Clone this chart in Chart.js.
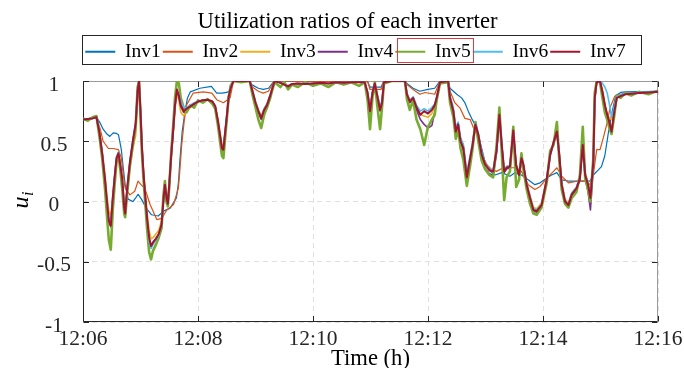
<!DOCTYPE html>
<html>
<head>
<meta charset="utf-8">
<script src="https://cdn.jsdelivr.net/npm/chart.js@4"></script>
<style>
  html, body { margin: 0; padding: 0; background: #fff; }
  canvas { display: block; }
</style>
</head>
<body>
<canvas id="ratioChart" width="684" height="368"></canvas>
<script>
// time axis: seconds after 12:06:00
const timeLabels = ["12:06", "12:08", "12:10", "12:12", "12:14", "12:16"];
const seriesNames = ["Inv1", "Inv2", "Inv3", "Inv4", "Inv5", "Inv6", "Inv7"];

// Inv1 / Inv2 react slowly, sampled on their own times
const inv1Times = [
  0, 14, 18, 21, 25, 28, 31.5, 35, 37, 40,
  42, 44, 47, 52, 55, 57.5, 61, 66, 71.5, 78.5,
  84, 91, 97.5, 99.5, 101, 103.5, 106.5, 109, 112, 122,
  134, 139.5, 145, 150, 153, 157, 174, 176, 183, 188,
  193.5, 199.5, 297, 299.5, 305, 311, 314, 336, 338, 344.5,
  351.5, 360, 367, 372.5, 381, 383, 390, 395, 398.5, 402,
  405.5, 411, 416, 419.5, 425, 430, 437, 445.5, 451, 457.5,
  464.5, 471.5, 477, 484, 489, 494.5, 499.5, 506.5, 520, 529,
  532.5, 537.5, 541, 544.5, 548, 552, 556, 561, 566, 580,
  600
];
const inv1 = [
  0.68, 0.70, 0.65, 0.60, 0.56, 0.54, 0.57, 0.565, 0.555, 0.43,
  0.28, 0.14, 0.02, 0.00, 0.03, 0.06, 0.02, -0.055, -0.11, -0.12,
  -0.08, -0.055, 0.03, 0.15, 0.33, 0.58, 0.75, 0.86, 0.91, 0.94,
  0.955, 0.90, 0.90, 0.905, 0.92, 1.00, 1.00, 0.97, 0.94, 0.93,
  0.94, 1.00, 0.995, 0.95, 0.95, 0.95, 1.00, 1.00, 0.98, 0.94,
  0.915, 0.93, 0.94, 1.00, 1.00, 0.94, 0.89, 0.86, 0.82, 0.75,
  0.69, 0.61, 0.44, 0.33, 0.25, 0.22, 0.24, 0.21, 0.24, 0.22,
  0.18, 0.14, 0.155, 0.195, 0.22, 0.24, 0.18, 0.17, 0.17, 0.17,
  0.22, 0.26, 0.29, 0.38, 0.56, 0.74, 0.88, 0.905, 0.91, 0.912,
  0.915
];

const inv2Times = [
  0, 14, 18, 21, 26.5, 31.5, 37, 40, 42, 44,
  49, 54, 57.5, 60.5, 64.5, 70, 77, 82, 87.5, 94.5,
  99.5, 101, 103, 105.5, 108, 115, 125.5, 134.5, 139.5, 146.5,
  153.5, 157, 174, 176, 183, 188, 193.5, 199.5, 297, 299.5,
  305, 311, 314, 336, 338, 344.5, 351.5, 357, 367, 372.5,
  381, 383, 388, 393.5, 398.5, 404, 407.5, 412.5, 416, 421.5,
  426.5, 431.5, 438.5, 445.5, 451, 457.5, 464.5, 471.5, 477, 484,
  491, 494.5, 499.5, 506.5, 517, 524, 529, 532.5, 536, 539.5,
  543, 546.5, 550, 555, 565.5, 580, 600
];
const inv2 = [
  0.68, 0.70, 0.60, 0.50, 0.44, 0.44, 0.43, 0.36, 0.22, 0.11,
  0.055, 0.085, 0.17, 0.14, 0.11, -0.025, -0.15, -0.14, -0.07, -0.025,
  0.11, 0.25, 0.47, 0.66, 0.80, 0.90, 0.91, 0.90, 0.845, 0.82,
  0.86, 1.00, 1.00, 0.955, 0.915, 0.90, 0.915, 1.00, 0.995, 0.93,
  0.93, 0.93, 1.00, 1.00, 0.97, 0.93, 0.89, 0.905, 0.89, 1.00,
  1.00, 0.915, 0.82, 0.775, 0.69, 0.68, 0.61, 0.555, 0.39, 0.305,
  0.265, 0.25, 0.28, 0.28, 0.28, 0.25, 0.14, 0.10, 0.125, 0.195,
  0.25, 0.28, 0.21, 0.155, 0.17, 0.17, 0.14, 0.22, 0.43, 0.43,
  0.53, 0.64, 0.78, 0.875, 0.90, 0.905, 0.91
];

// Inv3..Inv7 follow the fast controller, shared sample times
const fastTimes = [
  0, 5, 10, 14, 17, 20, 23, 25, 27, 29,
  31, 33, 35, 37, 39, 41, 43, 44, 46, 49,
  52, 55, 57, 58.5, 60, 61.5, 63, 65, 67, 69,
  71, 73, 76, 79, 82, 84, 85.5, 87, 88.5, 90,
  92, 94, 96, 98, 100, 102, 105, 108, 112, 116,
  120, 125, 130, 135, 138, 141, 143, 145, 146.5, 148,
  150, 152, 154, 157, 165, 174, 177, 180, 183, 186,
  189, 192, 195, 198, 200, 206, 210, 214, 218, 224,
  232, 240, 248, 256, 264, 272, 280, 288, 294, 297,
  299.5, 302, 304.5, 307, 310, 312, 314, 322, 336, 338,
  341, 344.5, 348, 352, 356, 360, 364, 367, 369, 372.5,
  381, 383, 386.5, 389, 391.5, 394, 397, 400.5, 404, 406.5,
  409.5, 412.5, 416, 419.5, 424, 428, 431.5, 434.5, 437, 439.5,
  442, 445.5, 449, 452, 455, 457.5, 459.5, 463, 466.5, 470,
  473.5, 478.5, 484, 487.5, 491, 494.5, 497, 499.5, 503, 506.5,
  510, 515, 518.5, 521.5, 524, 527, 529.5, 532.5, 534, 536,
  539.5, 542, 544.5, 547, 549, 551.5, 554.5, 557, 561, 566,
  572, 580, 590, 600
];
const inv3 = [
  0.68, 0.685, 0.69, 0.70, 0.60, 0.42, 0.22, 0.05, -0.08, -0.12,
  0.05, 0.22, 0.37, 0.41, 0.32, 0.20, 0.00, -0.06, 0.08, 0.28,
  0.44, 0.55, 0.88, 0.99, 0.78, 0.48, 0.28, 0.07, -0.10, -0.24,
  -0.31, -0.30, -0.27, -0.24, -0.16, 0.04, 0.15, 0.06, 0.00, 0.15,
  0.36, 0.55, 0.76, 0.90, 0.84, 0.74, 0.71, 0.75, 0.78, 0.80,
  0.83, 0.84, 0.845, 0.83, 0.79, 0.68, 0.57, 0.47, 0.46, 0.57,
  0.71, 0.87, 0.94, 1.00, 1.00, 1.00, 0.92, 0.83, 0.76, 0.71,
  0.77, 0.81, 0.88, 0.95, 1.00, 0.985, 0.97, 0.96, 0.975, 0.98,
  0.975, 0.98, 0.985, 0.98, 0.99, 0.985, 0.99, 0.99, 0.99, 0.91,
  0.77, 0.91, 0.98, 0.89, 0.78, 0.83, 0.99, 1.00, 1.00, 0.90,
  0.84, 0.86, 0.79, 0.72, 0.71, 0.70, 0.73, 0.79, 0.86, 0.99,
  1.00, 0.87, 0.76, 0.60, 0.65, 0.52, 0.46, 0.23, 0.37, 0.48,
  0.64, 0.56, 0.40, 0.32, 0.27, 0.26, 0.42, 0.70, 0.47, 0.27,
  0.29, 0.30, 0.57, 0.31, 0.24, 0.36, 0.31, 0.15, 0.05, -0.05,
  -0.06, -0.01, 0.20, 0.40, 0.50, 0.58, 0.40, 0.16, 0.02, -0.01,
  0.07, 0.12, 0.20, 0.46, 0.24, 0.16, 0.06, 0.33, 0.84, 0.99,
  1.00, 0.93, 0.82, 0.71, 0.70, 0.68, 0.76, 0.86, 0.875, 0.89,
  0.895, 0.90, 0.905, 0.91
];
const inv4 = [
  0.68, 0.685, 0.69, 0.70, 0.58, 0.40, 0.17, -0.01, -0.17, -0.21,
  0.01, 0.19, 0.35, 0.39, 0.29, 0.16, -0.08, -0.12, 0.08, 0.32,
  0.49, 0.64, 0.91, 1.00, 0.74, 0.44, 0.24, 0.03, -0.16, -0.31,
  -0.37, -0.34, -0.31, -0.28, -0.20, 0.01, 0.13, 0.03, -0.03, 0.13,
  0.37, 0.57, 0.79, 0.92, 0.87, 0.79, 0.74, 0.76, 0.79, 0.81,
  0.83, 0.84, 0.845, 0.83, 0.79, 0.65, 0.54, 0.43, 0.42, 0.54,
  0.69, 0.86, 0.94, 1.00, 1.00, 1.00, 0.91, 0.82, 0.74, 0.68,
  0.75, 0.80, 0.87, 0.95, 1.00, 0.985, 0.97, 0.955, 0.975, 0.98,
  0.975, 0.98, 0.985, 0.98, 0.99, 0.985, 0.99, 0.99, 0.99, 0.89,
  0.74, 0.90, 0.98, 0.87, 0.75, 0.81, 0.99, 1.00, 1.00, 0.88,
  0.82, 0.85, 0.76, 0.68, 0.64, 0.61, 0.63, 0.74, 0.84, 0.99,
  1.00, 0.85, 0.74, 0.57, 0.63, 0.49, 0.42, 0.19, 0.35, 0.46,
  0.63, 0.54, 0.37, 0.28, 0.23, 0.22, 0.40, 0.71, 0.46, 0.24,
  0.27, 0.28, 0.58, 0.29, 0.21, 0.35, 0.30, 0.13, 0.02, -0.08,
  -0.09, -0.04, 0.18, 0.38, 0.48, 0.57, 0.38, 0.13, -0.01, -0.04,
  0.05, 0.10, 0.18, 0.48, 0.20, 0.08, -0.07, 0.28, 0.85, 0.99,
  1.00, 0.91, 0.80, 0.72, 0.665, 0.58, 0.74, 0.86, 0.875, 0.89,
  0.895, 0.90, 0.905, 0.91
];
const inv5 = [
  0.69, 0.67, 0.70, 0.71, 0.55, 0.36, 0.10, -0.12, -0.32, -0.40,
  -0.08, 0.14, 0.33, 0.38, 0.26, 0.10, -0.10, -0.13, 0.06, 0.30,
  0.47, 0.62, 0.95, 1.00, 0.70, 0.40, 0.20, -0.02, -0.24, -0.42,
  -0.48, -0.41, -0.36, -0.30, -0.22, 0.06, 0.17, 0.00, -0.04, 0.12,
  0.40, 0.62, 0.86, 1.00, 0.98, 0.86, 0.78, 0.74, 0.80, 0.78,
  0.84, 0.82, 0.85, 0.81, 0.77, 0.62, 0.50, 0.38, 0.36, 0.50,
  0.68, 0.86, 0.96, 1.00, 0.99, 1.00, 0.88, 0.78, 0.68, 0.61,
  0.72, 0.78, 0.85, 0.94, 0.99, 0.95, 0.99, 0.93, 0.97, 0.95,
  0.99, 0.96, 0.98, 0.95, 0.99, 0.97, 0.99, 0.96, 0.99, 0.84,
  0.60, 0.86, 0.99, 0.80, 0.60, 0.78, 0.98, 1.00, 1.00, 0.85,
  0.76, 0.84, 0.68, 0.60, 0.47, 0.62, 0.68, 0.72, 0.84, 0.98,
  0.99, 0.82, 0.70, 0.52, 0.60, 0.44, 0.34, 0.13, 0.30, 0.44,
  0.66, 0.50, 0.34, 0.27, 0.22, 0.20, 0.46, 0.78, 0.40, 0.01,
  0.20, 0.25, 0.62, 0.12, 0.18, 0.40, 0.27, 0.10, -0.02, -0.10,
  -0.11, -0.05, 0.16, 0.42, 0.47, 0.66, 0.34, 0.10, -0.02, -0.05,
  0.03, 0.08, 0.22, 0.62, 0.19, 0.10, 0.00, 0.36, 0.90, 1.00,
  0.99, 0.86, 0.74, 0.68, 0.62, 0.56, 0.72, 0.88, 0.86, 0.90,
  0.88, 0.91, 0.89, 0.92
];
const inv6 = [
  0.68, 0.685, 0.69, 0.70, 0.59, 0.41, 0.19, 0.01, -0.14, -0.17,
  0.03, 0.21, 0.37, 0.41, 0.31, 0.19, -0.04, -0.09, 0.11, 0.34,
  0.51, 0.66, 0.92, 1.00, 0.76, 0.46, 0.26, 0.03, -0.17, -0.33,
  -0.39, -0.36, -0.32, -0.28, -0.20, 0.02, 0.14, 0.04, -0.02, 0.15,
  0.40, 0.61, 0.83, 0.90, 0.89, 0.84, 0.78, 0.78, 0.80, 0.82,
  0.83, 0.84, 0.845, 0.83, 0.79, 0.66, 0.55, 0.45, 0.44, 0.56,
  0.71, 0.88, 0.95, 1.00, 1.00, 1.00, 0.92, 0.83, 0.76, 0.70,
  0.77, 0.81, 0.88, 0.95, 1.00, 0.985, 0.97, 0.96, 0.975, 0.98,
  0.98, 0.98, 0.985, 0.98, 0.99, 0.985, 0.99, 0.99, 0.99, 0.91,
  0.78, 0.91, 0.98, 0.89, 0.79, 0.84, 0.99, 1.00, 1.00, 0.90,
  0.84, 0.87, 0.80, 0.75, 0.77, 0.75, 0.78, 0.81, 0.87, 0.99,
  1.00, 0.88, 0.78, 0.62, 0.66, 0.53, 0.47, 0.24, 0.38, 0.49,
  0.65, 0.57, 0.41, 0.32, 0.27, 0.26, 0.41, 0.70, 0.47, 0.27,
  0.29, 0.30, 0.57, 0.31, 0.23, 0.36, 0.31, 0.15, 0.04, -0.06,
  -0.07, -0.02, 0.19, 0.39, 0.49, 0.57, 0.39, 0.15, 0.01, -0.02,
  0.07, 0.12, 0.20, 0.46, 0.23, 0.15, 0.05, 0.32, 0.83, 0.99,
  1.00, 0.98, 0.95, 0.90, 0.82, 0.70, 0.79, 0.87, 0.885, 0.895,
  0.90, 0.905, 0.91, 0.915
];
const inv7 = [
  0.68, 0.685, 0.69, 0.70, 0.58, 0.40, 0.18, 0.00, -0.16, -0.20,
  0.02, 0.20, 0.36, 0.40, 0.30, 0.18, -0.05, -0.10, 0.10, 0.33,
  0.50, 0.65, 0.92, 1.00, 0.75, 0.45, 0.25, 0.04, -0.15, -0.30,
  -0.37, -0.34, -0.31, -0.27, -0.19, 0.02, 0.14, 0.04, -0.02, 0.14,
  0.38, 0.58, 0.80, 0.93, 0.88, 0.80, 0.75, 0.77, 0.79, 0.81,
  0.83, 0.84, 0.845, 0.83, 0.79, 0.66, 0.55, 0.44, 0.43, 0.55,
  0.70, 0.87, 0.94, 1.00, 1.00, 1.00, 0.91, 0.82, 0.75, 0.69,
  0.76, 0.80, 0.87, 0.95, 1.00, 0.985, 0.97, 0.955, 0.975, 0.98,
  0.975, 0.98, 0.985, 0.98, 0.99, 0.985, 0.99, 0.99, 0.99, 0.90,
  0.75, 0.90, 0.98, 0.88, 0.76, 0.82, 0.99, 1.00, 1.00, 0.89,
  0.83, 0.86, 0.78, 0.72, 0.75, 0.73, 0.76, 0.80, 0.86, 0.99,
  1.00, 0.86, 0.75, 0.58, 0.64, 0.50, 0.44, 0.20, 0.36, 0.47,
  0.64, 0.555, 0.39, 0.31, 0.26, 0.25, 0.42, 0.72, 0.47, 0.25,
  0.28, 0.29, 0.59, 0.30, 0.22, 0.36, 0.31, 0.14, 0.03, -0.07,
  -0.08, -0.03, 0.19, 0.39, 0.49, 0.58, 0.39, 0.14, 0.00, -0.03,
  0.06, 0.11, 0.19, 0.47, 0.22, 0.14, 0.03, 0.33, 0.86, 0.99,
  1.00, 0.91, 0.80, 0.72, 0.665, 0.58, 0.75, 0.86, 0.875, 0.89,
  0.895, 0.90, 0.905, 0.91
];

const seriesTimes = [inv1Times, inv2Times, fastTimes, fastTimes, fastTimes, fastTimes, fastTimes];
const seriesValues = [inv1, inv2, inv3, inv4, inv5, inv6, inv7];

// MATLAB default line colours
const lineColors = ["#0072BD", "#D95319", "#EDB120", "#7E2F8E", "#77AC30", "#4DBEEE", "#A2142F"];
const lineWidths = [1.2, 1.2, 1.6, 1.6, 2.6, 1.6, 2];

const SERIF = '"Liberation Serif", "Times New Roman", serif';
const GRID = "#e0e0e0";
const TICK = 5.5;
const LEGEND_SHIFT = 8;

const datasets = seriesNames.map((name, i) => ({
  label: name,
  data: seriesTimes[i].map((t, k) => ({ x: t, y: seriesValues[i][k] })),
  borderColor: lineColors[i],
  backgroundColor: lineColors[i],
  borderWidth: lineWidths[i],
  order: seriesNames.length - i // later inverters drawn on top
}));

const baseLabels = Chart.defaults.plugins.legend.labels.generateLabels;

const axesFrame = {
  id: "axesFrame",
  afterLayout(chart) {
    chart.legend.left += LEGEND_SHIFT;
    chart.legend.right += LEGEND_SHIFT;
  },
  beforeDatasetsDraw(chart) {
    const { ctx, chartArea: a, scales: { x, y } } = chart;
    const L = Math.round(a.left) + 0.5, R = Math.round(a.right) - 0.5;
    const T = Math.round(a.top) + 0.5, B = Math.round(a.bottom) - 0.5;
    ctx.save();
    ctx.lineWidth = 1;

    // top and right edges
    ctx.strokeStyle = "#9a9a9a";
    ctx.beginPath();
    ctx.moveTo(L, T); ctx.lineTo(R, T); ctx.lineTo(R, B);
    ctx.stroke();

    // inward tick marks on all four sides
    ctx.strokeStyle = "#262626";
    ctx.beginPath();
    x.ticks.forEach(t => {
      const px = Math.round(x.getPixelForValue(t.value)) + 0.5;
      ctx.moveTo(px, B); ctx.lineTo(px, B - TICK);
      ctx.moveTo(px, T); ctx.lineTo(px, T + TICK);
    });
    y.ticks.forEach(t => {
      const py = Math.round(y.getPixelForValue(t.value)) + 0.5;
      ctx.moveTo(L, py); ctx.lineTo(L + TICK, py);
      ctx.moveTo(R, py); ctx.lineTo(R - TICK, py);
    });
    ctx.stroke();

    // left and bottom axis lines
    ctx.beginPath();
    ctx.moveTo(L, T); ctx.lineTo(L, B); ctx.lineTo(R, B);
    ctx.stroke();
    ctx.restore();
  },
  afterDraw(chart) {
    const { ctx, chartArea: a } = chart;
    const hb = chart.legend.legendHitBoxes;
    ctx.save();

    // legend frame
    if (hb && hb.length) {
      const first = hb[0], last = hb[hb.length - 1];
      const top = Math.round(first.top - 7) + 0.5;
      const bottom = Math.round(first.top + first.height + 2.5) + 0.5;
      const left = Math.round(first.left - 3) + 0.5;
      const right = Math.round(last.left + last.width + 15) + 0.5;
      ctx.lineWidth = 1;
      ctx.strokeStyle = "#262626";
      ctx.strokeRect(left, top, right - left, bottom - top);

      // highlight box around Inv5
      const h = hb[4];
      ctx.strokeStyle = "#e23b3b";
      ctx.strokeRect(Math.round(h.left + 2) + 0.5, Math.round(h.top - 4) + 0.5,
        Math.round(h.width + 1), Math.round(h.height + 4.5));
    }

    // y-axis label u_i, rotated
    ctx.translate(27.5, (a.top + a.bottom) / 2 + 7);
    ctx.rotate(-Math.PI / 2);
    ctx.fillStyle = "#000";
    ctx.textBaseline = "alphabetic";
    ctx.textAlign = "left";
    ctx.font = "italic 24px " + SERIF;
    ctx.fillText("u", 0, 0);
    const uw = ctx.measureText("u").width;
    ctx.font = "italic 16px " + SERIF;
    ctx.fillText("i", uw + 0.5, 5);
    ctx.restore();
  }
};

new Chart(document.getElementById("ratioChart"), {
  type: "line",
  data: { datasets },
  options: {
    responsive: false,
    animation: false,
    layout: { padding: { left: 37, right: 26, top: 0, bottom: 0 } },
    elements: {
      point: { radius: 0 },
      line: { tension: 0, borderJoinStyle: "round" }
    },
    plugins: {
      tooltip: { enabled: false },
      title: {
        display: true,
        text: "Utilization ratios of each inverter",
        color: "#000",
        font: { family: SERIF, size: 22.6, weight: "normal", lineHeight: 1.2 },
        padding: { top: 9, bottom: 3.9 }
      },
      legend: {
        position: "top",
        labels: {
          sort: (a, b) => a.datasetIndex - b.datasetIndex,
          usePointStyle: true,
          pointStyle: "line",
          pointStyleWidth: 30,
          padding: 2,
          color: "#000",
          font: { family: SERIF, size: 19.5 },
          generateLabels: chart => baseLabels(chart).map(it => Object.assign(it, { lineWidth: 2.2 }))
        }
      }
    },
    scales: {
      x: {
        type: "linear",
        min: 0,
        max: 600,
        // fixed height; the 12:16 label may hang past the plot edge
        afterFit: s => { s.height = 46; s.paddingLeft = 0; s.paddingRight = 0; },
        grid: { color: GRID, drawTicks: false },
        border: { display: false, dash: [5, 4] },
        ticks: {
          stepSize: 120,
          autoSkip: false,
          maxRotation: 0,
          padding: 7.5,
          color: "#262626",
          font: { family: SERIF, size: 21.5, lineHeight: 0.9 },
          callback: v => timeLabels[Math.round(v / 120)]
        },
        title: {
          display: true,
          text: "Time (h)",
          color: "#000",
          font: { family: SERIF, size: 22.6, lineHeight: 0.8 },
          padding: { top: 0, bottom: 0 }
        }
      },
      // empty strip between the legend and the plot
      xTop: {
        type: "linear",
        position: "top",
        grid: { display: false, drawTicks: false },
        border: { display: false },
        ticks: { display: false },
        afterFit: s => { s.height = 9.5; }
      },
      y: {
        min: -1,
        max: 1,
        afterFit: s => { s.width = 46; },
        grid: { color: GRID, drawTicks: false },
        border: { display: false, dash: [5, 4] },
        ticks: {
          stepSize: 0.5,
          padding: 12,
          crossAlign: "center",
          labelOffset: 4,
          color: "#262626",
          font: { family: SERIF, size: 21.5, lineHeight: 0.9 },
          callback: v => String(Math.round(v * 10) / 10)
        }
      }
    }
  },
  plugins: [axesFrame]
});
</script>
</body>
</html>
